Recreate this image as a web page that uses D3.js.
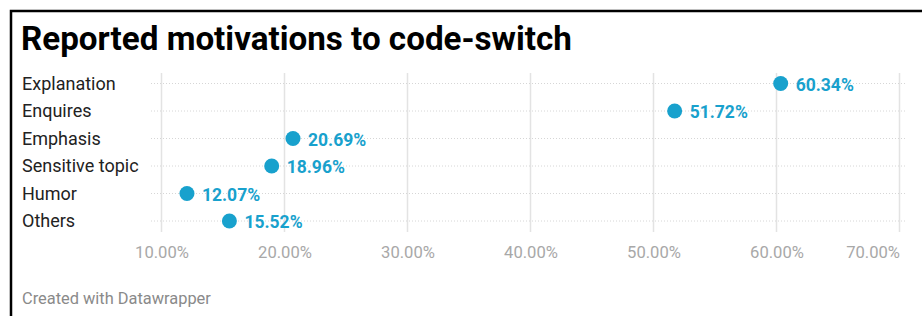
<!DOCTYPE html>
<html>
<head>
<meta charset="utf-8">
<script src="https://cdn.jsdelivr.net/npm/d3@7"></script>
<style>
  body { margin: 0; background: #fff; }
  svg { display: block; font-family: Roboto, "Noto Sans", sans-serif; }
</style>
</head>
<body>
<div id="chart"></div>
<script>
var width = 922;
var height = 316;

var categories = ["Explanation", "Enquires", "Emphasis", "Sensitive topic", "Humor", "Others"];
var values = [60.34, 51.72, 20.69, 18.96, 12.07, 15.52];
var ticks = [10, 20, 30, 40, 50, 60, 70];

var svg = d3.select("#chart")
  .append("svg")
  .attr("width", width)
  .attr("height", height);

// frame round the whole thing
svg.append("rect")
  .attr("x", 11).attr("y", 11)
  .attr("width", width + 20).attr("height", height + 20)
  .attr("fill", "none")
  .attr("stroke", "#000")
  .attr("stroke-width", 2.5);

svg.append("text")
  .attr("x", 21).attr("y", 50)
  .attr("font-size", 33.2)
  .attr("font-weight", 700)
  .attr("fill", "#000")
  .text("Reported motivations to code-switch");

var x = d3.scaleLinear().domain([10, 70]).range([161.5, 899.5]);
var y = d3.scalePoint().domain(categories).range([83.5, 221]);

// vertical grid
svg.append("g")
  .selectAll("line")
  .data(ticks)
  .enter().append("line")
  .attr("x1", function(d) { return x(d); })
  .attr("x2", function(d) { return x(d); })
  .attr("y1", 73).attr("y2", 232)
  .attr("stroke", "#e3e3e3")
  .attr("stroke-width", 1.5);

// row guide lines, dotted
svg.append("g")
  .selectAll("line")
  .data(categories)
  .enter().append("line")
  .attr("x1", 151).attr("x2", 907)
  .attr("y1", function(d) { return y(d); })
  .attr("y2", function(d) { return y(d); })
  .attr("stroke", "#d6d6d6")
  .attr("stroke-width", 1)
  .attr("stroke-dasharray", "1,2");

// row labels
svg.append("g")
  .selectAll("text")
  .data(categories)
  .enter().append("text")
  .attr("x", 22)
  .attr("y", function(d) { return y(d); })
  .attr("dy", "0.36em")
  .attr("font-size", 18)
  .attr("fill", "#222")
  .text(function(d) { return d; });

// x axis labels
var axis = svg.append("g")
  .attr("transform", "translate(0,236)")
  .call(d3.axisBottom(x).tickValues(ticks).tickSize(0).tickPadding(0)
    .tickFormat(function(d) { return d3.format(".2f")(d) + "%"; }));
axis.select(".domain").remove();
axis.selectAll("text")
  .attr("dy", "0.71em")
  .attr("y", 10.5)
  .attr("font-family", "Roboto, sans-serif")
  .attr("font-size", 16.6)
  .attr("fill", "#a8a8a8");
axis.selectAll(".tick").filter(function(d) { return d == 70; })
  .select("text").attr("text-anchor", "end");

var rows = categories.map(function(c, i) { return {cat: c, val: values[i]}; });

svg.append("g")
  .selectAll("circle")
  .data(rows)
  .enter().append("circle")
  .attr("cx", function(d) { return x(d.val); })
  .attr("cy", function(d) { return y(d.cat); })
  .attr("r", 7.5)
  .attr("fill", "#18a1cd");

svg.append("g")
  .selectAll("text")
  .data(rows)
  .enter().append("text")
  .attr("x", function(d) { return x(d.val) + 15; })
  .attr("y", function(d) { return y(d.cat); })
  .attr("dy", "0.4em")
  .attr("font-size", 17.5)
  .attr("font-weight", 700)
  .attr("fill", "#18a1cd")
  .text(function(d) { return d3.format(".2f")(d.val) + "%"; });

svg.append("text")
  .attr("x", 22).attr("y", 304)
  .attr("font-size", 16.4)
  .attr("fill", "#8a8a8a")
  .text("Created with Datawrapper");
</script>
</body>
</html>
